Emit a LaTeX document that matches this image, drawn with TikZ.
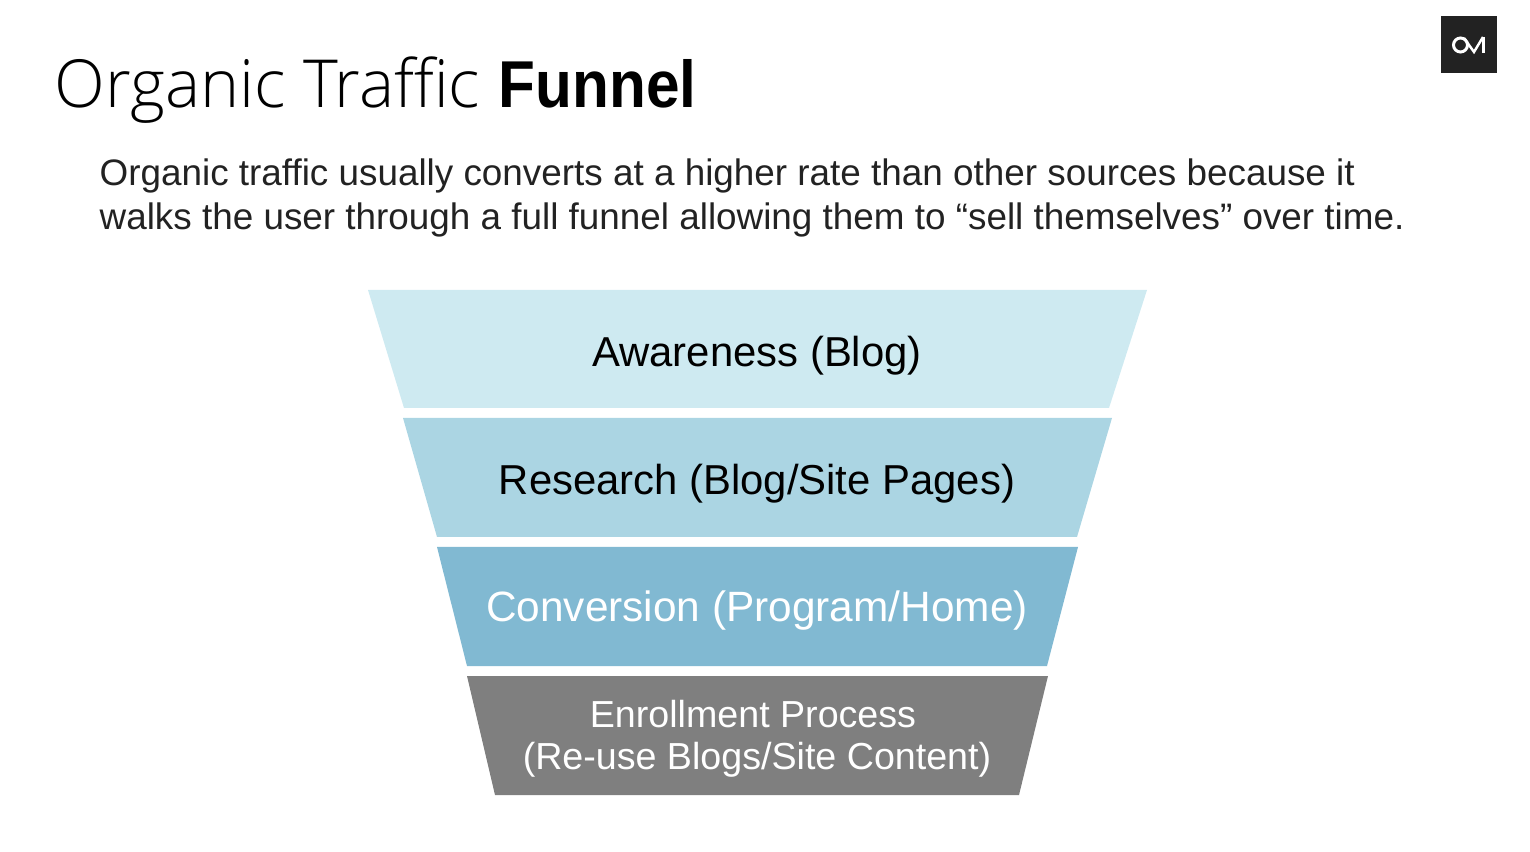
\documentclass[tikz,border=0pt]{standalone}
\usepackage{fontspec}
\setmainfont{Liberation Sans}
\newfontfamily\lightfont{Open Sans Light}
\usepackage{xcolor}
\definecolor{awareblue}{HTML}{CEEAF1}
\definecolor{researchblue}{HTML}{ABD5E3}
\definecolor{convertblue}{HTML}{81B9D2}
\definecolor{enrollgray}{HTML}{7F7F7F}
\definecolor{logoblack}{HTML}{222222}
\definecolor{inkgray}{HTML}{222222}
\tikzset{
	label/.style={font=\fontsize{11.9}{14}\selectfont},
	body/.style={font=\fontsize{10.48}{12.4}\selectfont, text=inkgray, inner sep=0pt, anchor=base west},
}

\begin{document}
\begin{tikzpicture}[x=.01cm,y=-.01cm]

	\useasboundingbox (0,0) rectangle (1530,852);

	% title and intro
	\node[anchor=base west, inner sep=0pt, font=\fontsize{18.85}{22}\selectfont] (title) at (54,108) {{\lightfont Organic Traffic} \scalebox{.91}[1]{\textbf{Funnel}}};
	\node[body] (introa) at (99,186) {Organic traffic usually converts at a higher rate than other sources because it};
	\node[body] (introb) at (99,230) {walks the user through a full funnel allowing them to “sell themselves” over time.};

	% logo
	\fill[logoblack] (1441,16) rectangle (1497,73);
	\draw[white, line width=.85pt] (1460.5,45) circle(7);
	\draw[white, line width=.7pt] (1464,38) -- (1474,52) -- (1483,37);
	\draw[white, line width=1pt] (1483.5,37) -- (1483.5,53);

	% funnel
	\fill[awareblue] (368,290) -- (1147,290) -- (1109,408) -- (404,408) -- cycle;
	\fill[researchblue] (403,418) -- (1112,418) -- (1077,537) -- (437,537) -- cycle;
	\fill[convertblue] (437,547) -- (1078,547) -- (1047,666) -- (467,666) -- cycle;
	\fill[enrollgray] (467,676) -- (1048,676) -- (1019,795) -- (495,795) -- cycle;

	\node[label] (aware) at (757,356) {Awareness (Blog)};
	\node[label] (research) at (757,484) {Research (Blog/Site Pages)};
	\node[label, text=white, font=\fontsize{12.05}{14}\selectfont] (convert) at (757,611) {Conversion (Program/Home)};
	\node[label, text=white, align=center, font=\fontsize{10.7}{12}\selectfont] (enroll) at (757,739) {Enrollment Process\hspace*{.08cm}\mbox{}\\(Re-use Blogs/Site Content)};

\end{tikzpicture}
\end{document}
